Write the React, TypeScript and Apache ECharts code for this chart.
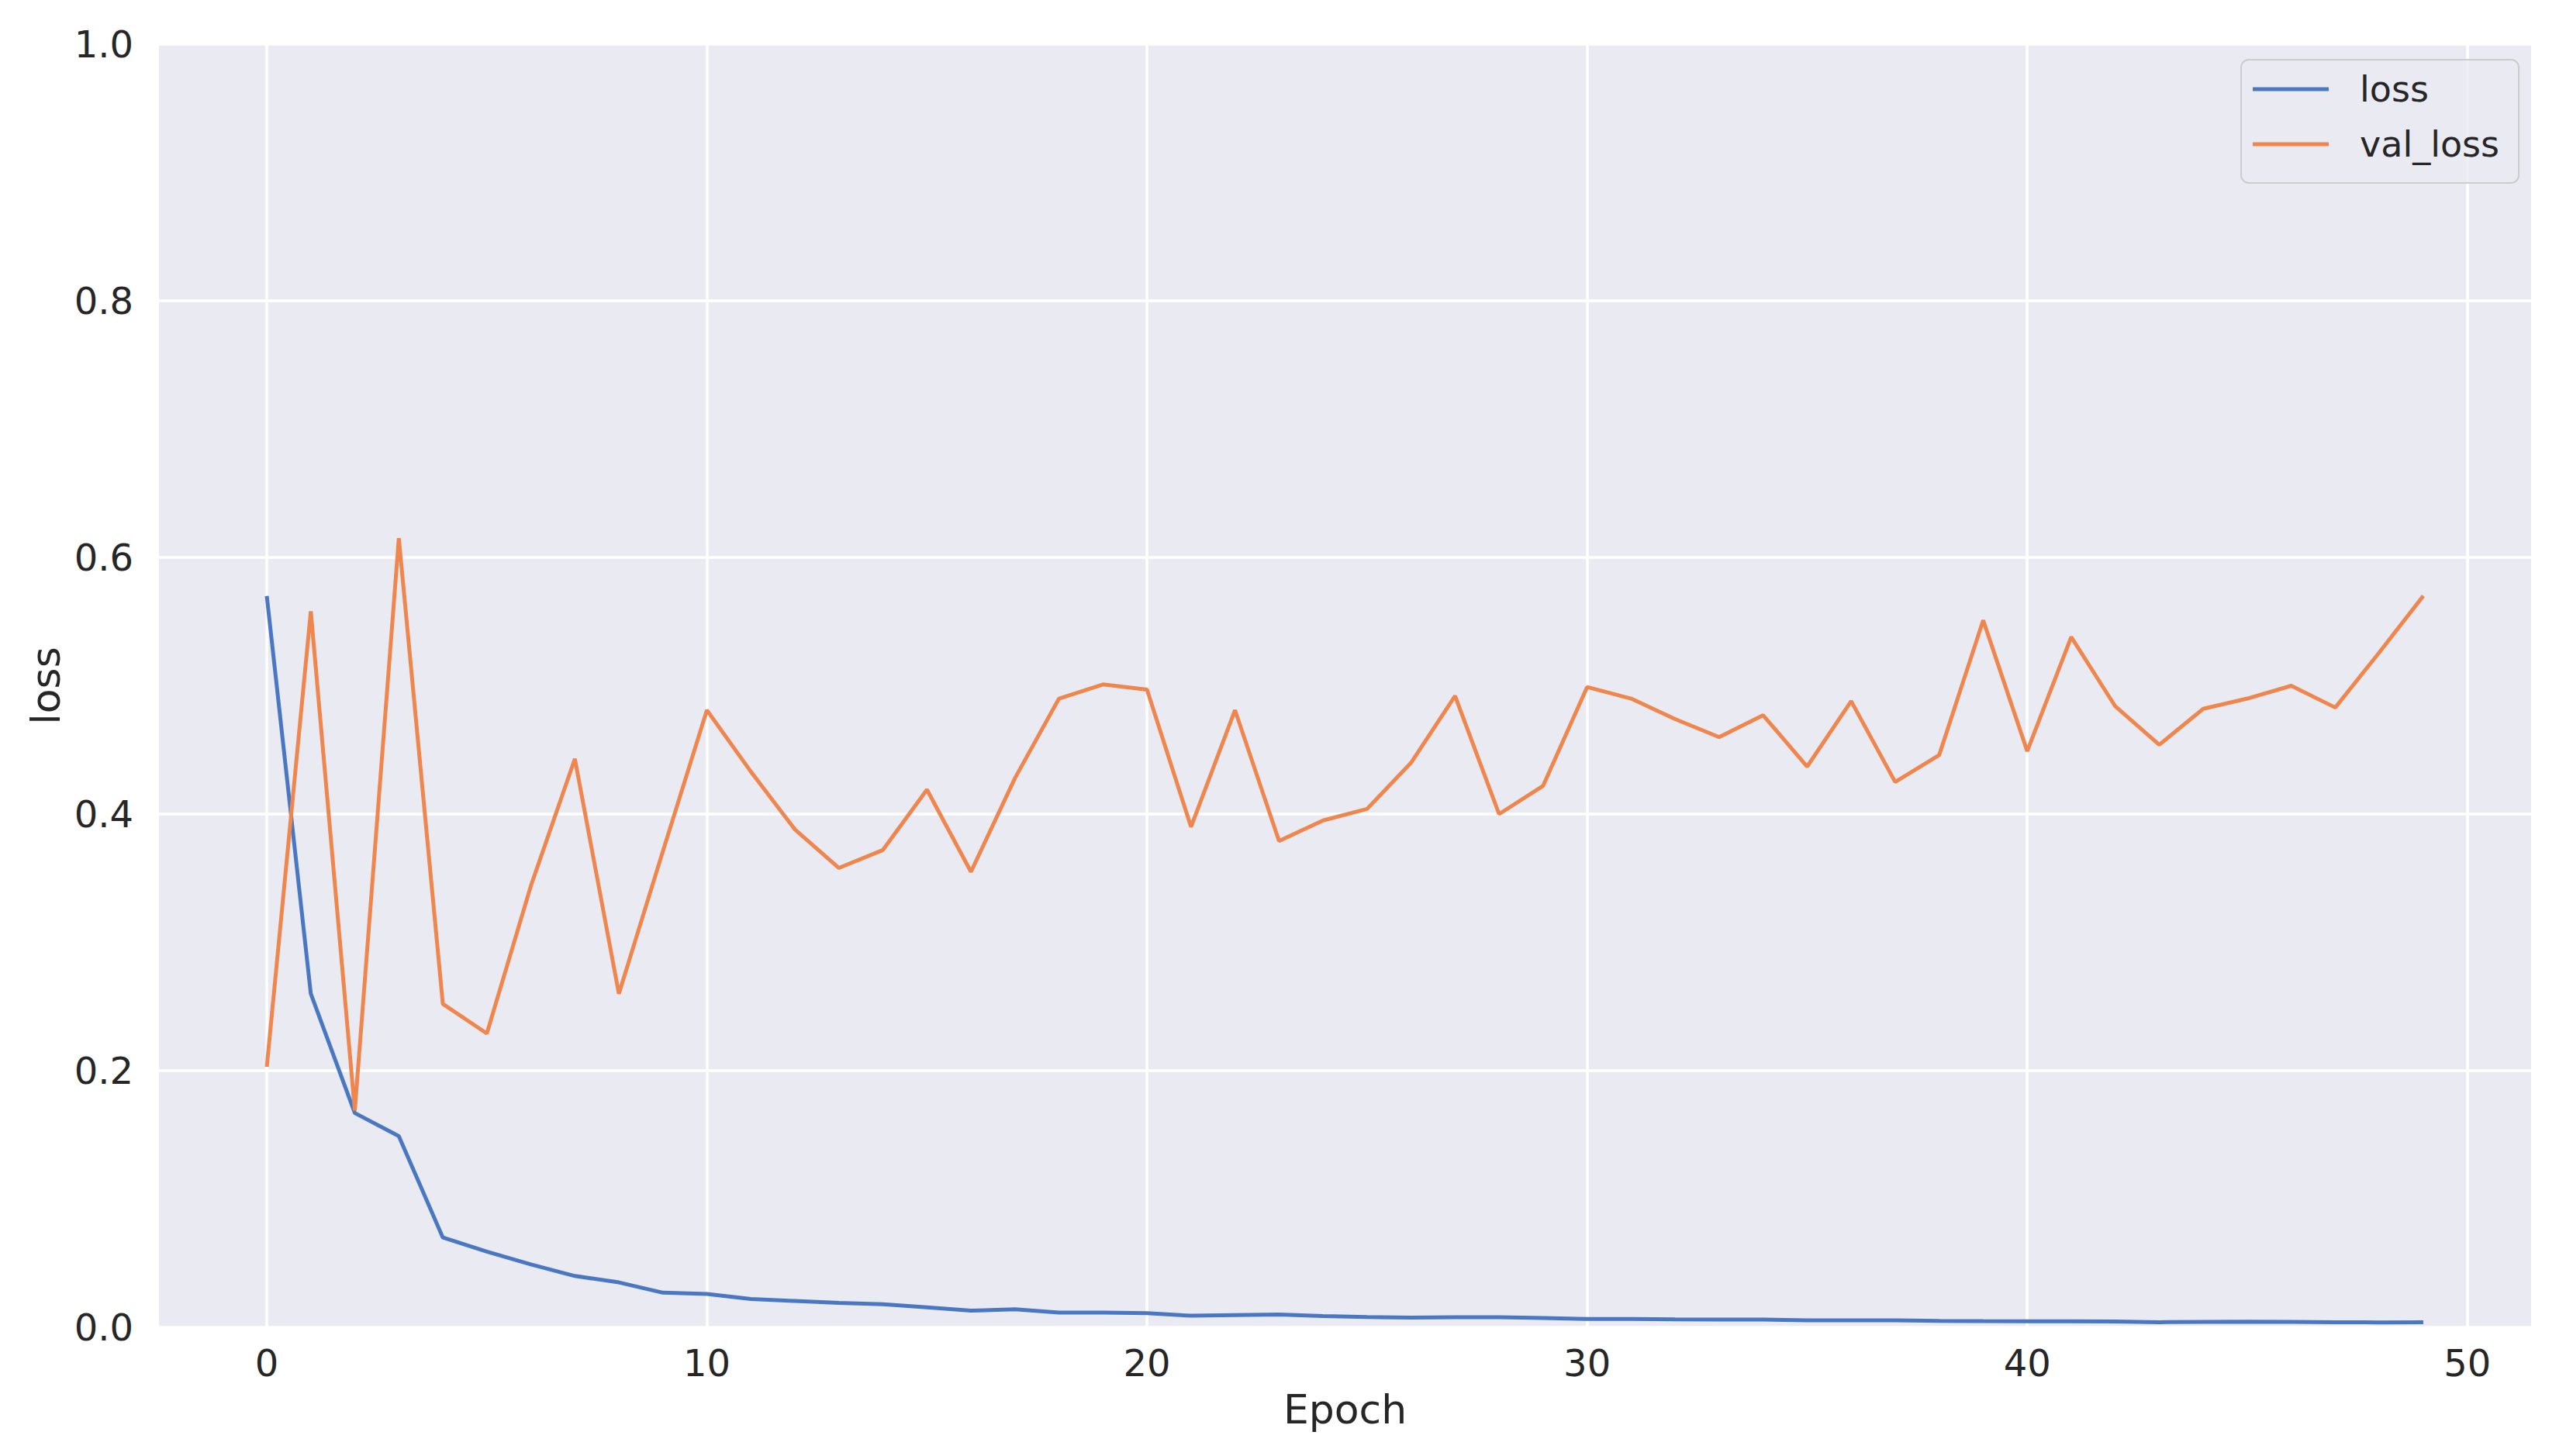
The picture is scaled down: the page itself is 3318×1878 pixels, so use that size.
import React, { useEffect, useRef } from "react";
import * as echarts from "echarts";

const epochs = [
  0, 1, 2, 3, 4, 5, 6, 7, 8, 9, 10, 11, 12, 13, 14, 15, 16, 17, 18, 19, 20, 21, 22, 23, 24,
  25, 26, 27, 28, 29, 30, 31, 32, 33, 34, 35, 36, 37, 38, 39, 40, 41, 42, 43, 44, 45, 46, 47, 48, 49,
];

const lossValues = [
  0.57, 0.26, 0.167, 0.149, 0.07, 0.059, 0.049, 0.04, 0.035, 0.027,
  0.026, 0.022, 0.0205, 0.019, 0.018, 0.0155, 0.013, 0.014, 0.0115, 0.0115,
  0.011, 0.009, 0.0095, 0.01, 0.0088, 0.008, 0.0075, 0.0078, 0.0078, 0.0072,
  0.0065, 0.0065, 0.0062, 0.006, 0.006, 0.0055, 0.0055, 0.0054, 0.005, 0.0048,
  0.0047, 0.0047, 0.0046, 0.004, 0.0042, 0.0044, 0.0043, 0.004, 0.0038, 0.004,
];

const valLossValues = [
  0.203, 0.558, 0.169, 0.615, 0.252, 0.229, 0.344, 0.443, 0.26, 0.371,
  0.481, 0.433, 0.388, 0.358, 0.372, 0.419, 0.355, 0.428, 0.49, 0.501,
  0.497, 0.39, 0.481, 0.379, 0.395, 0.404, 0.44, 0.492, 0.4, 0.422,
  0.499, 0.49, 0.474, 0.46, 0.477, 0.437, 0.488, 0.425, 0.446, 0.551,
  0.449, 0.538, 0.484, 0.454, 0.482, 0.49, 0.5, 0.483, 0.526, 0.57,
];

const xTickValues = [0, 10, 20, 30, 40, 50];
const seriesNames = ["loss", "val_loss"];
const xAxisTitle = "Epoch";
const yAxisTitle = "loss";

const FONT = "'DejaVu Sans', sans-serif";
const TEXT_COLOR = "#262626";
const BLUE = "#4A77C2";
const ORANGE = "#EF864E";

export default function App() {
  const ref = useRef<HTMLDivElement>(null);

  useEffect(() => {
    if (!ref.current) return;
    const chart = echarts.init(ref.current, undefined, { renderer: "svg" });

    const lossData = epochs.map((e, i) => [e, lossValues[i]]);
    const valData = epochs.map((e, i) => [e, valLossValues[i]]);

    chart.setOption({
      animation: false,
      backgroundColor: "#ffffff",
      textStyle: { fontFamily: FONT, color: TEXT_COLOR },
      grid: {
        left: 205,
        right: 54,
        top: 57,
        bottom: 166,
        show: true,
        backgroundColor: "#EAEAF2",
        borderWidth: 0,
        containLabel: false,
        outerBoundsMode: "none",
      },
      legend: {
        orient: "vertical",
        left: 2890,
        top: 77,
        padding: [10, 25, 22, 15],
        itemWidth: 98,
        itemHeight: 5,
        itemGap: 15,
        icon: "rect",
        backgroundColor: "rgba(234,234,242,0.8)",
        borderColor: "#cccccc",
        borderWidth: 2,
        borderRadius: 10,
        textStyle: {
          fontFamily: FONT,
          fontSize: 46,
          lineHeight: 56,
          color: TEXT_COLOR,
          padding: [0, 0, 0, 35],
        },
        data: seriesNames,
      },
      xAxis: {
        type: "value",
        min: -2.45,
        max: 51.45,
        name: xAxisTitle,
        nameLocation: "middle",
        nameGap: 80,
        nameTextStyle: { fontFamily: FONT, fontSize: 52, color: TEXT_COLOR },
        axisLine: { show: false },
        axisTick: { show: false, customValues: xTickValues },
        axisLabel: {
          customValues: xTickValues,
          fontFamily: FONT,
          fontSize: 48,
          color: TEXT_COLOR,
          margin: 22,
        },
        splitLine: { show: true, lineStyle: { color: "#ffffff", width: 3.5 } },
      },
      yAxis: {
        type: "value",
        min: 0,
        max: 1,
        interval: 0.2,
        name: yAxisTitle,
        nameLocation: "middle",
        nameGap: 120,
        nameRotate: 90,
        nameTextStyle: { fontFamily: FONT, fontSize: 52, color: TEXT_COLOR },
        axisLine: { show: false },
        axisTick: { show: false },
        axisLabel: {
          fontFamily: FONT,
          fontSize: 48,
          color: TEXT_COLOR,
          margin: 33,
          formatter: (v: number) => v.toFixed(1),
        },
        splitLine: { show: true, lineStyle: { color: "#ffffff", width: 3.5 } },
      },
      series: [
        {
          name: seriesNames[0],
          type: "line",
          data: lossData,
          showSymbol: false,
          symbol: "none",
          lineStyle: { color: BLUE, width: 5 },
          itemStyle: { color: BLUE },
          z: 3,
        },
        {
          name: seriesNames[1],
          type: "line",
          data: valData,
          showSymbol: false,
          symbol: "none",
          lineStyle: { color: ORANGE, width: 5 },
          itemStyle: { color: ORANGE },
          z: 3,
        },
      ],
    });

    return () => chart.dispose();
  }, []);

  return (
    <div
      ref={ref}
      style={{ position: "fixed", left: 0, top: 0, width: 3318, height: 1878 }}
    />
  );
}
